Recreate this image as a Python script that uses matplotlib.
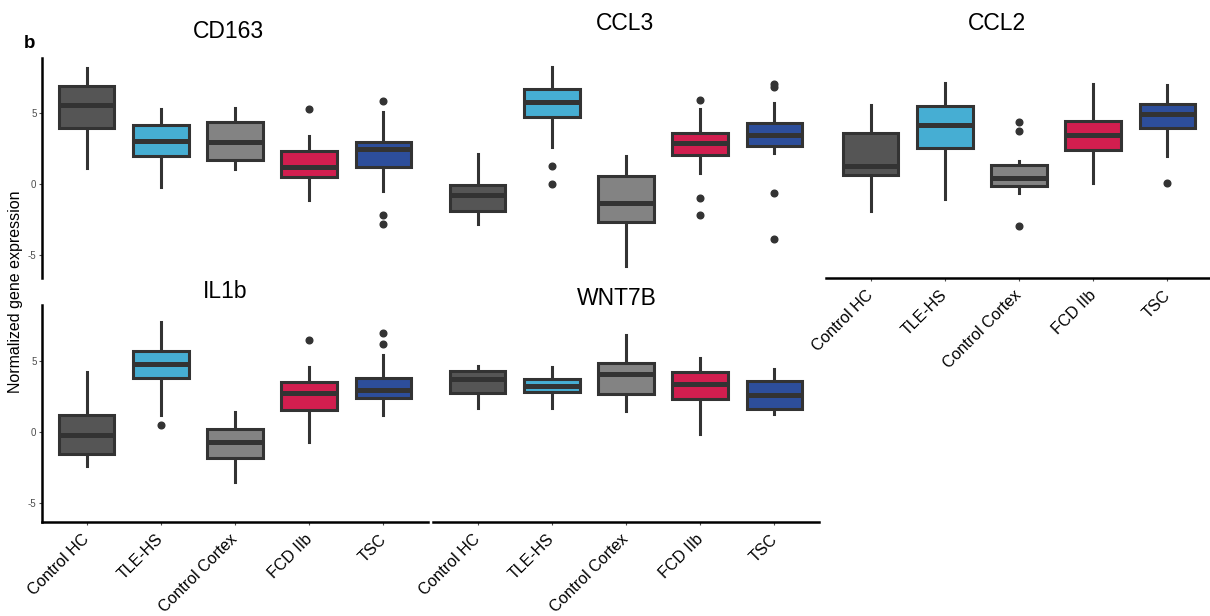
import matplotlib
matplotlib.use("Agg")
import matplotlib.pyplot as plt
from matplotlib.transforms import ScaledTranslation

plt.rcParams['font.family'] = ['Liberation Sans', 'DejaVu Sans']

categories = ["Control HC", "TLE-HS", "Control Cortex", "FCD IIb", "TSC"]
fill_colors = ["#555555", "#46AED3", "#838383", "#D21E4F", "#2D4E9B"]

# each box: [whisker low, q1, median, q3, whisker high]
cd163_boxes = [[1.1, 3.94, 5.56, 6.9, 8.15],
               [-0.2, 2.0, 3.0, 4.15, 5.3],
               [1.06, 1.69, 2.96, 4.37, 5.35],
               [-1.13, 0.5, 1.2, 2.32, 3.38],
               [-0.49, 1.2, 2.46, 2.96, 5.07]]
cd163_out = [[], [], [], [5.28], [5.85, -2.18, -2.82]]

ccl3_boxes = [[-2.8, -1.9, -0.77, -0.07, 2.1],
              [2.6, 4.72, 5.77, 6.7, 8.24],
              [-5.77, -2.68, -1.34, 0.56, 1.97],
              [0.8, 2.04, 2.9, 3.6, 5.3],
              [2.18, 2.68, 3.45, 4.3, 5.7]]
ccl3_out = [[], [1.27, 0.0], [], [5.9, -1.0, -2.2], [7.04, 6.83, -0.63, -3.87]]

ccl2_boxes = [[-1.9, 0.63, 1.27, 3.6, 5.56],
              [-1.06, 2.53, 4.15, 5.5, 7.1],
              [-0.65, -0.14, 0.42, 1.34, 1.62],
              [0.07, 2.39, 3.45, 4.44, 7.04],
              [1.97, 3.94, 4.93, 5.63, 6.97]]
ccl2_out = [[], [], [4.37, 3.73, -2.96], [], [0.07]]

il1b_boxes = [[-2.4, -1.55, -0.2, 1.2, 4.2],
              [1.2, 3.8, 4.8, 5.7, 7.75],
              [-3.5, -1.83, -0.73, 0.2, 1.41],
              [-0.7, 1.55, 2.75, 3.52, 4.58],
              [1.2, 2.4, 2.96, 3.8, 5.42]]
il1b_out = [[], [0.5], [], [6.48], [6.97, 6.2]]

wnt7b_boxes = [[1.7, 2.75, 3.7, 4.3, 4.65],
               [1.7, 2.82, 3.24, 3.73, 4.6],
               [1.48, 2.68, 4.08, 4.86, 6.83],
               [-0.14, 2.32, 3.38, 4.23, 5.2],
               [1.27, 1.62, 2.6, 3.6, 4.44]]
wnt7b_out = [[], [], [], [], []]

yticks = [-5, 0, 5]

W, H = 1210, 616
fig = plt.figure(figsize=(W / 100, H / 100), dpi=100)


def px_axes(x0, y0, x1, y1):
    return fig.add_axes([x0 / W, 1 - y1 / H, (x1 - x0) / W, (y1 - y0) / H])


EDGE = "#333333"


def draw(ax, boxes, outs, ylim, show_y, show_x):
    stats = []
    for b, o in zip(boxes, outs):
        stats.append(dict(whislo=b[0], q1=b[1], med=b[2], q3=b[3], whishi=b[4], fliers=o))
    pos = list(range(1, len(categories) + 1))
    res = ax.bxp(stats, positions=pos, widths=0.75, patch_artist=True, showcaps=False,
                 boxprops=dict(edgecolor=EDGE, linewidth=2.2),
                 whiskerprops=dict(color=EDGE, linewidth=2.2),
                 medianprops=dict(color=EDGE, linewidth=3.6, solid_capstyle='butt'),
                 flierprops=dict(marker='o', markerfacecolor=EDGE, markeredgecolor=EDGE,
                                 markersize=4.8, linestyle='none'))
    for patch, c in zip(res['boxes'], fill_colors):
        patch.set_facecolor(c)
    for w in res['whiskers']:
        w.set_zorder(1)
    ax.set_xlim(0.4, len(categories) + 0.6)
    ax.set_ylim(*ylim)
    for s in ['top', 'right']:
        ax.spines[s].set_visible(False)
    ax.spines['left'].set_visible(show_y)
    ax.spines['bottom'].set_visible(show_x)
    ax.spines['left'].set_linewidth(1.8)
    ax.spines['bottom'].set_linewidth(1.8)
    if show_y:
        ax.set_yticks(yticks)
        ax.set_yticklabels([str(t) for t in yticks])
        ax.tick_params(axis='y', labelsize=7, labelcolor='#4D4D4D', color='#4D4D4D',
                       length=2.5, width=0.8, pad=1.5)
    else:
        ax.set_yticks([])
    if show_x:
        ax.set_xticks(pos)
        ax.set_xticklabels(categories, rotation=45, ha='right', va='top',
                           rotation_mode='anchor', fontsize=11.5)
        ax.tick_params(axis='x', color='#4D4D4D', length=2.5, width=0.8, pad=4.5)
        shift = ScaledTranslation(-5 / 100, 0, fig.dpi_scale_trans)
        for lab in ax.get_xticklabels():
            lab.set_transform(lab.get_transform() + shift)
    else:
        ax.set_xticks([])
    ax.patch.set_alpha(0)


top_ylim = ((184 - 278) / 14.2, (184 - 58) / 14.2)
bot_ylim = ((432 - 522) / 14.2, (432 - 305) / 14.2)

ax1 = px_axes(42, 58, 428, 278)
draw(ax1, cd163_boxes, cd163_out, top_ylim, True, False)
ax2 = px_axes(433, 58, 819, 278)
draw(ax2, ccl3_boxes, ccl3_out, top_ylim, False, False)
ax3 = px_axes(826, 58, 1212, 278)
draw(ax3, ccl2_boxes, ccl2_out, top_ylim, False, True)
ax4 = px_axes(42, 305, 428, 522)
draw(ax4, il1b_boxes, il1b_out, bot_ylim, True, True)
ax5 = px_axes(433, 305, 819, 522)
draw(ax5, wnt7b_boxes, wnt7b_out, bot_ylim, False, True)


def ftext(x, y, s, **kw):
    fig.text(x / W, 1 - y / H, s, **kw)


ftext(228, 32, "CD163", ha='center', va='center', fontsize=16.5)
ftext(625, 24, "CCL3", ha='center', va='center', fontsize=16.5)
ftext(997, 23, "CCL2", ha='center', va='center', fontsize=16.5)
ftext(225, 292, "IL1b", ha='center', va='center', fontsize=16.5)
ftext(617, 298, "WNT7B", ha='center', va='center', fontsize=16.5)
ftext(30, 44, "b", ha='center', va='center', fontsize=13.5, fontweight='bold')
ftext(16, 292, "Normalized gene expression", ha='center', va='center',
      rotation=90, fontsize=11.5)

fig.savefig("out.png", dpi=100)
